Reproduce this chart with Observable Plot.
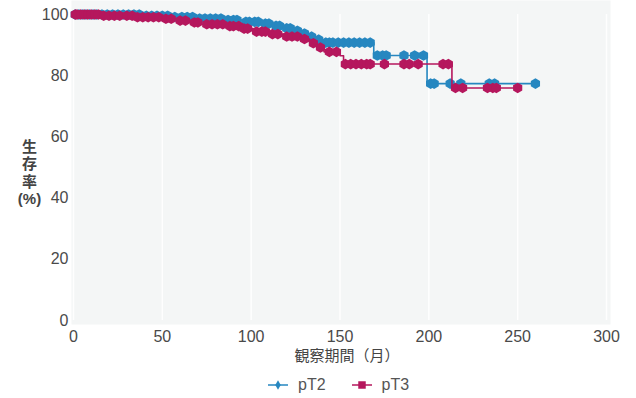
<!DOCTYPE html>
<html>
<head>
<meta charset="utf-8">
<script src="https://cdn.jsdelivr.net/npm/d3@7"></script>
<script src="https://cdn.jsdelivr.net/npm/@observablehq/plot@0.6"></script>
<style>
  html, body { margin: 0; padding: 0; background: #ffffff; }
  body { width: 636px; height: 398px; overflow: hidden; font-family: "Liberation Sans", "Noto Sans CJK JP", sans-serif; }
  #legend { height: 26px; display: flex; align-items: center; justify-content: flex-start; padding-left: 268px; gap: 0; font-size: 16px; color: #555; }
  .item { display: flex; align-items: center; }
  .item svg { margin-right: 10px; }
</style>
</head>
<body>
<div id="chart"></div>
<div id="legend"></div>
<script>
// Series names and colours
const seriesNames = ["pT2", "pT3"];
const seriesColors = ["#2687c0", "#b5175d"];

// Kaplan–Meier step points (time in months, survival %)
const pT2Time = [0, 40, 55, 70, 85, 95, 105, 112, 118, 124, 128, 132, 136, 140, 169, 199, 262];
const pT2Surv = [100, 99.6, 99.2, 98.7, 98.2, 97.6, 97.0, 96.3, 95.5, 94.7, 93.8, 92.8, 91.8, 90.8, 86.6, 77.4, 77.4];

const pT3Time = [0, 15, 35, 50, 58, 65, 72, 85, 94, 101, 110, 118, 128, 133, 137, 141, 150, 152, 213, 250];
const pT3Surv = [100, 99.6, 99.1, 98.6, 98.0, 97.4, 96.8, 96.2, 95.4, 94.4, 93.6, 92.8, 92.0, 90.6, 89.2, 87.8, 86.5, 83.8, 76.0, 76.0];

// Censoring times (markers)
const pT2Censor = [1,3,5,7,9,11,13,16,19,22,25,28,31,34,37,41,44,47,50,53,57,61,64,67,71,74,77,80,83,87,90,92,97,99,102,104,108,110,114,116,120,122,126,130,134,138,142,144,146,149,152,155,158,161,164,167,171,174,176,186,192,197,201,203,212,218,234,237,260];
const pT3Censor = [1,2,4,6,8,10,12,14,17,20,23,26,30,33,36,39,42,45,48,52,55,60,63,68,70,75,78,81,84,88,90,93,96,98,103,106,108,112,115,120,123,126,130,135,139,144,148,153,156,159,162,165,167,175,186,189,194,208,211,215,219,233,236,238,250];

// Axis ticks and labels
const xTicks = [0, 50, 100, 150, 200, 250, 300];
const yTicks = [0, 20, 40, 60, 80, 100];
const xLabel = "観察期間（月）";
const yLabel = "生\n存\n率\n(%)";

function steps(times, survs, name) {
  return times.map((t, i) => ({time: t, surv: survs[i], series: name}));
}
function lookup(times, survs, t) {
  let v = survs[0];
  for (let i = 0; i < times.length; i++) if (times[i] <= t) v = survs[i];
  return v;
}
function censors(ct, times, survs, name) {
  return ct.map(t => ({time: t, surv: lookup(times, survs, t), series: name}));
}

const lineT2 = steps(pT2Time, pT2Surv, "pT2");
const lineT3 = steps(pT3Time, pT3Surv, "pT3");
const dotT2 = censors(pT2Censor, pT2Time, pT2Surv, "pT2");
const dotT3 = censors(pT3Censor, pT3Time, pT3Surv, "pT3");

const chart = Plot.plot({
  width: 636,
  height: 372,
  marginLeft: 73,
  marginRight: 30,
  marginTop: 14,
  marginBottom: 52,
  style: {fontFamily: "'Liberation Sans', 'Noto Sans CJK JP', sans-serif", fontSize: "16px", color: "#4a4a4a", background: "transparent"},
  x: {domain: [0, 300], ticks: xTicks, tickSize: 0, tickPadding: 10, label: null},
  y: {domain: [0, 100], ticks: yTicks, tickSize: 0, tickPadding: 5, label: null},
  color: {domain: seriesNames, range: seriesColors},
  marks: [
    Plot.frame({fill: "#f4f6f6", stroke: null, insetTop: -14, insetRight: -4, insetBottom: -4, insetLeft: -2}),
    Plot.gridX(xTicks, {stroke: "#ffffff", strokeOpacity: 0.9, strokeWidth: 1.5}),
    Plot.line(lineT2, {x: "time", y: "surv", stroke: "series", curve: "step-after", strokeWidth: 1.6}),
    Plot.dot(dotT2, {x: "time", y: "surv", fill: "series", symbol: "hexagon", r: 4.6, stroke: null}),
    Plot.line(lineT3, {x: "time", y: "surv", stroke: "series", curve: "step-after", strokeWidth: 1.6}),
    Plot.dot(dotT3, {x: "time", y: "surv", fill: "series", symbol: "hexagon", r: 4.6, stroke: null}),
    Plot.text([xLabel], {frameAnchor: "bottom", dy: 40, dx: 7, text: d => d, fontSize: 15, fill: "#444"}),
    Plot.text([yLabel], {frameAnchor: "left", dx: -44, dy: 5, text: d => d, fontSize: 15, fontWeight: "bold", lineHeight: 1.15, fill: "#444", textAnchor: "middle"})
  ]
});
document.getElementById("chart").appendChild(chart);

// Legend
const legend = document.getElementById("legend");
const symbols = ["diamond", "square"];
seriesNames.forEach((name, i) => {
  const item = document.createElement("div");
  item.className = "item";
  item.style.marginRight = i === 0 ? "26px" : "0";
  const s = d3.create("svg").attr("width", 20).attr("height", 14);
  s.append("line").attr("x1", 0).attr("x2", 20).attr("y1", 7).attr("y2", 7).attr("stroke", seriesColors[i]).attr("stroke-width", 1.5);
  s.append("path").attr("transform", "translate(10,7)")
    .attr("d", d3.symbol(symbols[i] === "diamond" ? d3.symbolDiamond : d3.symbolSquare, i === 0 ? 26 : 56)())
    .attr("fill", seriesColors[i]);
  item.appendChild(s.node());
  const t = document.createElement("span");
  t.textContent = name;
  item.appendChild(t);
  legend.appendChild(item);
});
</script>
</body>
</html>
